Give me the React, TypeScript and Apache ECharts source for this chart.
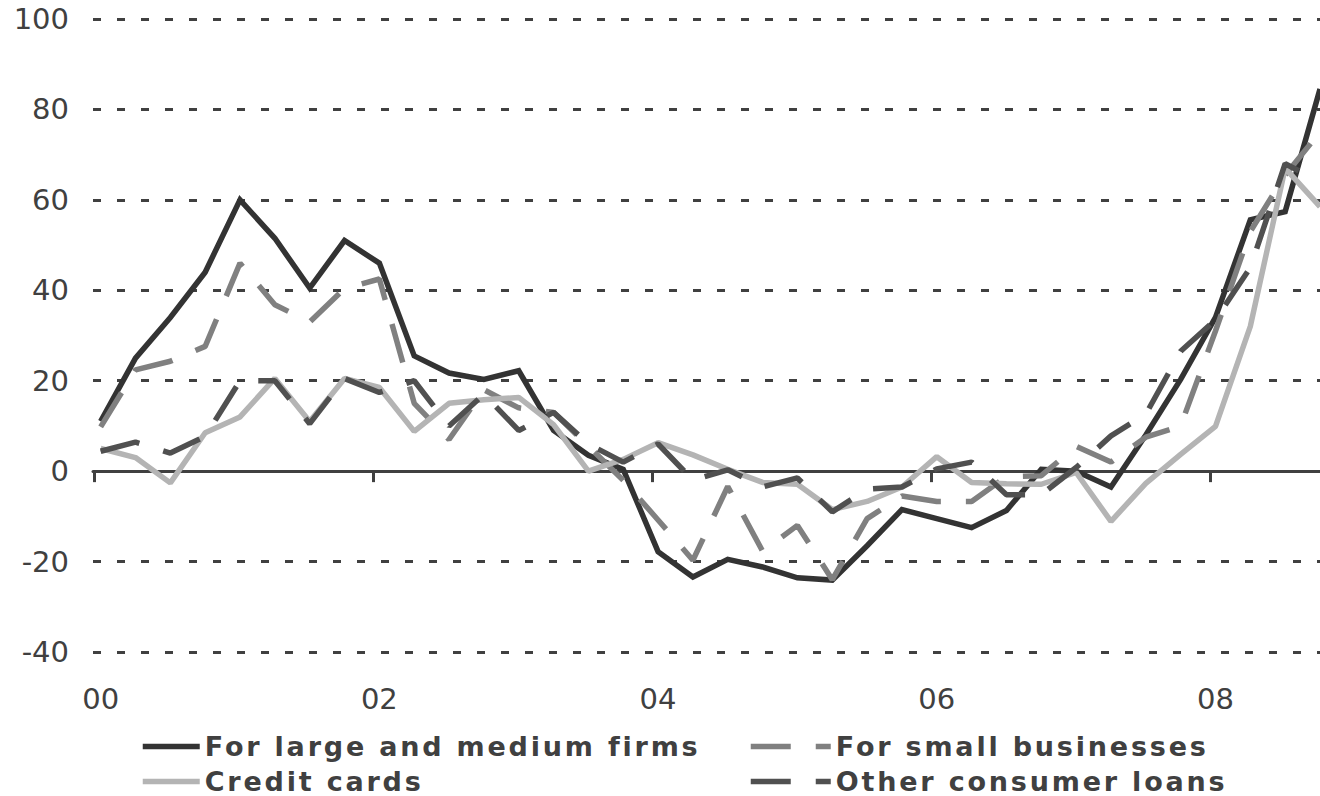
import React, { useEffect, useRef } from "react";
import * as echarts from "echarts";

// Quarterly observations, 2000 Q1 – 2008 Q4 (index 0..35)
const quarterIndex: number[] = Array.from({ length: 36 }, (_, i) => i);

const largeMediumFirms: number[] = [
  11, 25, 34, 44, 60, 51.5, 40.5, 51, 46, 25.5,
  21.7, 20.3, 22.2, 9, 3.5, 0.4, -17.8, -23.4, -19.5, -21.2,
  -23.6, -24.1, -16.5, -8.5, -10.5, -12.5, -8.7, 0.4, 0, -3.5,
  8, 20.3, 34, 55.6, 57.4, 84.5,
];

const smallBusinesses: number[] = [
  9.8, 22.4, 24.3, 27.6, 46, 36.8, 33, 40.4, 42.5, 15,
  7, 18, 14, 13, 5.5, -2, -10.8, -19.7, -3.4, -17.7,
  -12, -24, -10.5, -5.5, -6.7, -6.7, -1.2, -1, 5.5, 2,
  7.5, 10, 31, 53, 65.5, 75,
];

const creditCards: number[] = [
  5, 3, -2.6, 8.5, 12, 20.5, 11, 20.5, 18.5, 8.8,
  15, 15.8, 16.3, 10.3, 0, 2.6, 6.3, 3.6, 0.4, -2.5,
  -2.9, -8.5, -6.7, -3.5, 3.2, -2.5, -2.8, -2.9, -0.3, -11.1,
  -2.7, 3.7, 9.9, 32, 67, 58.5,
];

const otherConsumerLoans: number[] = [
  4.4, 6.4, 4, 7.7, 20, 20, 10.5, 20.5, 17.4, 20,
  10, 17, 9, 13, 6, 2, 6, -2, 0.3, -3.5,
  -1.5, -9, -4, -3.5, 0.5, 2, -5.2, -5.2, 0.8, 7.8,
  12.6, 26.5, 33.5, 45, 68, 64,
];

const seriesNames: string[] = [
  "For large and medium firms",
  "For small businesses",
  "Credit cards",
  "Other consumer loans",
];

const xLabelValues: number[] = [0, 8, 16, 24, 32];
const xLabels: string[] = ["00", "02", "04", "06", "08"];
const xTickValues: number[] = [-0.17, 7.83, 15.83, 23.83, 31.85];

const FONT = "DejaVu Sans";
const TEXT_COLOR = "#404040";

function pairs(values: number[]): number[][] {
  return quarterIndex.map((q, i) => [q, values[i]]);
}

export default function App() {
  const ref = useRef<HTMLDivElement | null>(null);

  useEffect(() => {
    if (!ref.current) return;
    const chart = echarts.init(ref.current, undefined, { renderer: "svg" });

    const dash = [40, 25];
    const legendText = {
      color: TEXT_COLOR,
      fontSize: 27,
      fontWeight: "bold" as const,
      fontFamily: FONT,
    };

    const mkLegend = (name: string, left: number, top: number, w: number) => ({
      data: [name],
      left,
      top,
      itemWidth: w,
      itemHeight: 27,
      selectedMode: false,
      lineStyle: { width: 5.5 },
      itemStyle: { opacity: 0 },
      textStyle: legendText,
    });

    chart.setOption({
      animation: false,
      backgroundColor: "#ffffff",
      grid: { left: 93, right: 0, top: 19, bottom: 144, containLabel: false },
      legend: [
        mkLegend(seriesNames[0], 135, 728, 57),
        mkLegend(seriesNames[1], 743, 728, 80),
        mkLegend(seriesNames[2], 135, 763, 57),
        mkLegend(seriesNames[3], 743, 763, 80),
      ],
      xAxis: [
        {
          type: "value",
          min: -0.22,
          max: 35,
          position: "bottom",
          axisLine: {
            show: true,
            onZero: true,
            lineStyle: { color: TEXT_COLOR, width: 3 },
          },
          axisTick: {
            show: true,
            inside: false,
            length: 11,
            customValues: xTickValues,
            lineStyle: { color: TEXT_COLOR, width: 3 },
          },
          axisLabel: { show: false },
          splitLine: { show: false },
        },
        {
          type: "value",
          min: -0.22,
          max: 35,
          position: "bottom",
          axisLine: { show: false, onZero: false },
          axisTick: { show: false },
          splitLine: { show: false },
          axisLabel: {
            show: true,
            customValues: xLabelValues,
            margin: 32,
            color: TEXT_COLOR,
            fontSize: 29,
            fontFamily: FONT,
            formatter: (v: number) => {
              const k = xLabelValues.indexOf(Math.round(v));
              return k >= 0 ? xLabels[k] : "";
            },
          },
        },
      ],
      yAxis: {
        type: "value",
        min: -40,
        max: 100,
        interval: 20,
        axisLine: { show: false },
        axisTick: { show: false },
        axisLabel: {
          margin: 24,
          color: TEXT_COLOR,
          fontSize: 29,
          fontFamily: FONT,
        },
        splitLine: {
          show: true,
          lineStyle: { color: TEXT_COLOR, width: 3, type: [8, 16] },
        },
      },
      series: [
        {
          name: seriesNames[0],
          type: "line",
          data: pairs(largeMediumFirms),
          symbol: "none",
          lineStyle: { color: "#333333", width: 5.5, join: "miter" },
          itemStyle: { color: "#333333" },
          z: 3,
        },
        {
          name: seriesNames[1],
          type: "line",
          data: pairs(smallBusinesses),
          symbol: "none",
          lineStyle: { color: "#808080", width: 5.5, type: dash, cap: "butt" },
          itemStyle: { color: "#808080" },
          z: 4,
        },
        {
          name: seriesNames[2],
          type: "line",
          data: pairs(creditCards),
          symbol: "none",
          lineStyle: { color: "#b4b4b4", width: 5.5 },
          itemStyle: { color: "#b4b4b4" },
          z: 5,
        },
        {
          name: seriesNames[3],
          type: "line",
          data: pairs(otherConsumerLoans),
          symbol: "none",
          lineStyle: { color: "#505050", width: 5.5, type: dash, cap: "butt" },
          itemStyle: { color: "#505050" },
          z: 6,
        },
      ],
    });

    return () => chart.dispose();
  }, []);

  return (
    <>
      <style>{`.chart-host svg text[style*="bold"] { letter-spacing: 2.8px; }`}</style>
      <div
        ref={ref}
        className="chart-host"
        style={{ position: "absolute", left: 0, top: 0, width: 1320, height: 796 }}
      />
    </>
  );
}
